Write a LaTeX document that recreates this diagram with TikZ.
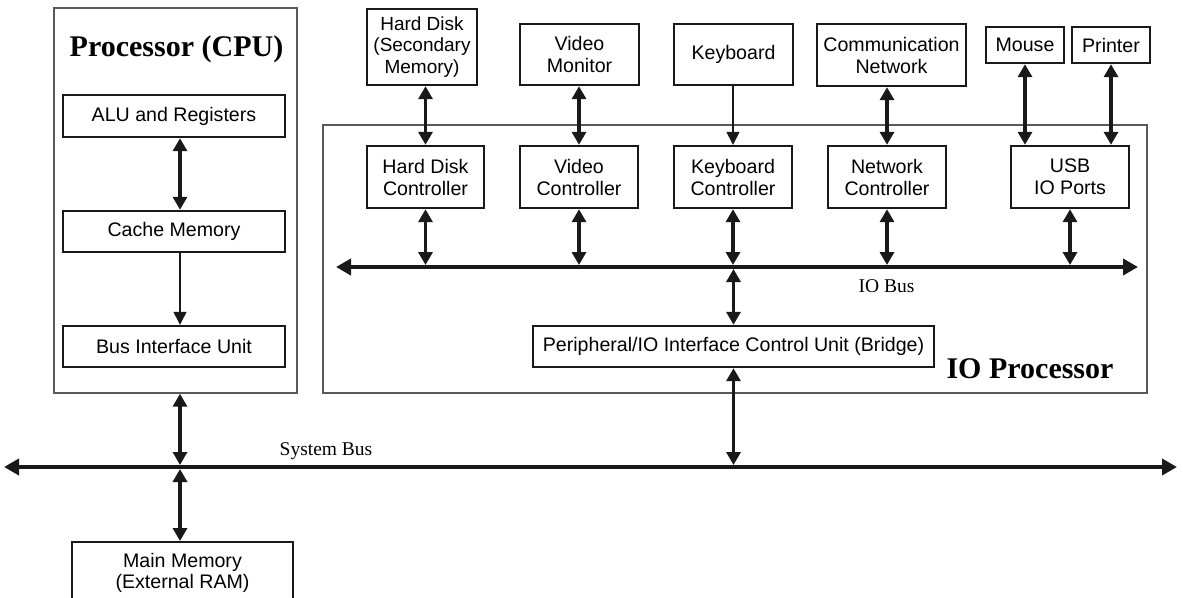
\documentclass[tikz,border=0pt]{standalone}
\usepackage{fontspec}
\setmainfont{Liberation Serif}
\setsansfont{Liberation Sans}
\usetikzlibrary{arrows.meta}
\begin{document}
\begin{tikzpicture}[x=1pt,y=-1pt,
  unit/.style={draw=black!90, line width=2.4pt, inner sep=0pt, align=center,
    font=\sffamily\fontsize{19.6}{22}\selectfont},
  frame/.style={draw=black!65, line width=1.4pt, inner sep=0pt},
  heading/.style={font=\bfseries\fontsize{30}{34}\selectfont, anchor=base},
  buslabel/.style={font=\fontsize{19.5}{22}\selectfont, anchor=base},
  link/.style={line width=3.4pt, draw=black!90,
    {Triangle[length=13pt,width=14pt]}-{Triangle[length=13pt,width=14pt]}},
  feed/.style={line width=1.4pt, draw=black!90, -{Triangle[length=13pt,width=13pt]}},
  bus/.style={line width=4pt, draw=black!90,
    {Triangle[length=15pt,width=16pt]}-{Triangle[length=15pt,width=16pt]}},
]
\useasboundingbox (0,0) rectangle (1183,597);

% ---------- CPU ----------
\node[frame, minimum width=243pt, minimum height=385pt] (cpu) at (175.5,200.5) {};
\node[heading] (cputitle) at (176.5,56) {Processor (CPU)};
\node[unit, minimum width=222pt, minimum height=42pt] (alu) at (174,116) {ALU and Registers};
\node[unit, minimum width=222pt, minimum height=41pt] (cache) at (174,231.5) {Cache Memory};
\node[unit, minimum width=222pt, minimum height=41pt] (biu) at (174,346.5) {Bus Interface Unit};
\coordinate (cpuaxis) at (180,0);

% ---------- Main memory (runs past the lower edge) ----------
\node[unit, minimum width=221pt, minimum height=100pt, anchor=north] (mm) at (182.5,541) {};
\node[font=\sffamily\fontsize{19.6}{21}\selectfont, align=center, inner sep=0pt] (mmtext) at (182.5,573) {Main Memory\\(External RAM)};

% ---------- IO processor ----------
\node[frame, minimum width=824pt, minimum height=268pt] (iop) at (735,259) {};
\node[heading] (ioptitle) at (1030,378) {IO Processor};

% peripherals
\node[unit, minimum width=110pt, minimum height=76pt, font=\sffamily\fontsize{19}{21.5}\selectfont] (hd) at (422,47) {Hard Disk\\(Secondary\\Memory)};
\node[unit, minimum width=119pt, minimum height=61pt] (vm) at (579.5,54.5) {Video\\Monitor};
\node[unit, minimum width=119pt, minimum height=61pt] (kb) at (733.5,54.5) {Keyboard};
\node[unit, minimum width=149pt, minimum height=62pt] (cn) at (891.5,55) {Communication\\Network};
\node[unit, minimum width=78pt, minimum height=36pt] (mouse) at (1025,45) {Mouse};
\node[unit, minimum width=78pt, minimum height=36pt] (printer) at (1111,45) {Printer};

% controllers
\node[unit, minimum width=117pt, minimum height=62pt] (hdc) at (425.5,177) {Hard Disk\\Controller};
\node[unit, minimum width=118pt, minimum height=62pt] (vc) at (579,177) {Video\\Controller};
\node[unit, minimum width=118pt, minimum height=62pt] (kc) at (733,177) {Keyboard\\Controller};
\node[unit, minimum width=118pt, minimum height=62pt] (nc) at (887,177) {Network\\Controller};
\node[unit, minimum width=118pt, minimum height=62pt] (usb) at (1070,177) {USB\\IO Ports};

\node[unit, minimum width=401pt, minimum height=41pt] (bridge) at (733.5,346.5) {Peripheral/IO Interface Control Unit (Bridge)};

% ---------- buses ----------
\coordinate (ibL) at (336,267);
\coordinate (ibR) at (1138,267);
\draw[bus] (ibL) -- (ibR);
\node[buslabel] (iblabel) at (886.5,292) {IO Bus};

\coordinate (sbL) at (4,467);
\coordinate (sbR) at (1177,467);
\draw[bus] (sbL) -- (sbR);
\node[buslabel] (sblabel) at (326,455) {System Bus};

% ---------- connectors inside the CPU ----------
\draw[link] (alu.south -| cpuaxis) -- (cache.north -| cpuaxis);
\draw[feed] (cache.south -| cpuaxis) -- (biu.north -| cpuaxis);
\draw[link, shorten >=2pt] (cpu.south -| cpuaxis) -- (sbL -| cpuaxis);
\draw[link, shorten <=2pt] (sbL -| cpuaxis) -- (mm.north -| cpuaxis);

% ---------- peripherals to controllers ----------
\draw[link] (hdc.north |- hd.south) -- (hdc.north);
\draw[link] (vc.north |- vm.south) -- (vc.north);
\draw[feed] (kc.north |- kb.south) -- (kc.north);
\draw[link] (nc.north |- cn.south) -- (nc.north);
\draw[link] (mouse.south) -- (mouse.south |- usb.north);
\draw[link] (printer.south) -- (printer.south |- usb.north);

% ---------- controllers to IO bus ----------
\foreach \c in {hdc,vc,kc,nc,usb}
  \draw[link, shorten >=2pt] (\c.south) -- (\c.south |- ibL);

% ---------- bridge ----------
\draw[link, shorten <=2pt] (bridge.north |- ibL) -- (bridge.north);
\draw[link, shorten >=2pt] (bridge.south) -- (bridge.south |- sbL);
\end{tikzpicture}
\end{document}
